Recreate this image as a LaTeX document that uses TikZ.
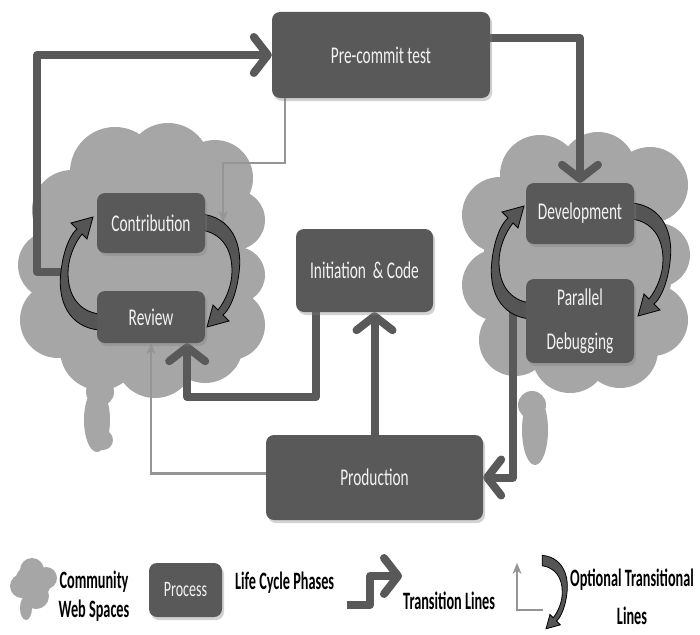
\documentclass[tikz,border=0pt]{standalone}
\usepackage{fontspec}
\usetikzlibrary{arrows.meta,shadows,calc}
\newfontfamily\boxfont[FakeStretch=0.64]{Carlito}
\newfontfamily\legfont[FakeStretch=0.57]{Carlito}
\definecolor{boxgray}{HTML}{595959}
\definecolor{cloudgray}{HTML}{A6A6A6}
\definecolor{thingray}{HTML}{959595}
\definecolor{txtwhite}{HTML}{F2F2F2}
\definecolor{arcfill}{HTML}{555555}
\pgfdeclarelayer{cloudlayer}
\pgfdeclarelayer{linelayer}
\pgfsetlayers{cloudlayer,linelayer,main}
\tikzset{
  phase/.style={draw=none, fill=boxgray, rounded corners=8pt, text=txtwhite,
    font=\boxfont\fontsize{24}{29}\selectfont, inner sep=0pt, align=center,
    drop shadow={opacity=0.35, shadow xshift=2pt, shadow yshift=-3pt}},
  trans/.style={draw=boxgray, line width=8pt, line join=round,
    -{Straight Barb[round,length=14pt,width=36pt]}},
  optline/.style={draw=thingray, line width=2.5pt,
    -{Stealth[length=11pt,width=9pt,line width=0.5pt]}},
  legtext/.style={font=\legfont\bfseries\fontsize{25}{29}\selectfont, text=black,
    inner sep=0pt, align=center},
  crescent/.pic={
    \filldraw[fill=arcfill, draw=black, line width=0.8pt, line join=miter]
      (-51,58) .. controls (-81,55) and (-93,29) .. (-89,-1)
      .. controls (-86,-26) and (-78,-39) .. (-73,-43)
      -- (-79,-49) -- (-57,-55) -- (-63,-33) -- (-68,-38)
      .. controls (-76,-28) and (-82,-13) .. (-82,1)
      .. controls (-82,24) and (-71,39) .. (-51,42) -- cycle;
  },
}
\begin{document}
\begin{tikzpicture}[x=1pt,y=-1pt]
\useasboundingbox (0,0) rectangle (700,634);
% ---------- process boxes ----------
\node[phase, minimum width=218pt, minimum height=86pt] (pre) at (381,55) {Pre-commit test};
\node[phase, minimum width=108pt, minimum height=60pt] (contrib) at (151,223) {Contribution};
\node[phase, minimum width=108pt, minimum height=52pt] (review) at (151,317) {Review};
\node[phase, minimum width=137pt, minimum height=83pt] (init) at (364.5,270.5) {Initiation\ \ \& Code};
\node[phase, minimum width=108pt, minimum height=61pt] (dev) at (580,213.5) {Development};
\node[phase, minimum width=108pt, minimum height=84pt] (pardebug) at (580,321) {Parallel\\[15pt]Debugging};
\node[phase, minimum width=217pt, minimum height=85pt] (prod) at (374.5,477.5) {Production};
% ---------- legend nodes ----------
\node[phase, minimum width=73pt, minimum height=54pt, font=\boxfont\fontsize{22}{26}\selectfont] (lgproc) at (185.5,590) {Process};
\node[legtext] (lgcomm) at (94,596) {Community\\Web Spaces};
\node[legtext, anchor=west] (lglife) at (235,583) {Life Cycle Phases};
\node[legtext, anchor=west] (lgtrans) at (403,601) {Transition Lines};
\node[legtext] (lgopt) at (632,597) {Optional Transitional\\[9pt]Lines};
\coordinate (a1s) at (66,272);
\coordinate (lgts) at (347,605);
\coordinate (lgos) at (543,610);
\coordinate (cR) at (581,261);
\coordinate (cL) at (150,272);
\coordinate (cG) at (509,593);
% ---------- clouds ----------
\begin{pgfonlayer}{cloudlayer}
\fill[white] (0,0) rectangle (700,634);
\fill[cloudgray]
  (142,265) circle[radius=100]
  (115,172) circle[radius=45]
  (168,165) circle[radius=42]
  (215,178) circle[radius=38]
  (72,210) circle[radius=40]
  (235,220) circle[radius=30]
  (52,265) circle[radius=34]
  (237,275) circle[radius=28]
  (58,320) circle[radius=38]
  (230,325) circle[radius=35]
  (100,350) circle[radius=40]
  (155,358) circle[radius=40]
  (205,345) circle[radius=38]
  (100,392) circle[radius=14]
  (97,420) ellipse[x radius=13, y radius=32]
  (103,440) circle[radius=10];
\fill[cloudgray]
  (578,265) circle[radius=95]
  (540,175) circle[radius=40]
  (598,170) circle[radius=38]
  (650,185) circle[radius=38]
  (500,215) circle[radius=38]
  (498,285) circle[radius=36]
  (658,255) circle[radius=32]
  (652,320) circle[radius=36]
  (515,340) circle[radius=36]
  (570,355) circle[radius=38]
  (620,350) circle[radius=38]
  (532,405) circle[radius=14]
  (535,430) ellipse[x radius=13, y radius=35];
\fill[cloudgray]
  (33,582) circle[radius=18]
  (22,586) circle[radius=12]
  (46,578) circle[radius=11]
  (32,570) circle[radius=12]
  (36,596) circle[radius=13]
  (26,608) ellipse[x radius=6, y radius=12];
\end{pgfonlayer}
% ---------- connectors ----------
\begin{pgfonlayer}{linelayer}
\draw[optline] ($(pre.south west)+(13,0)$) -- ++(0,65) -| ($(contrib.east)+(18,-1)$);
\draw[optline] ($(prod.west)+(0,-4)$) -| (review.south);
\draw[trans] (a1s) -- ++(-29,0) |- (pre.west);
\draw[trans] ($(pre.east)+(0,-17)$) -| (dev.north);
\draw[trans] ($(init.south west)+(20,0)$) -- ++(0,85) -| ($(review.south east)+(-18,0)$);
\draw[trans] (prod.north) -- (prod.north |- init.south);
\draw[trans] ($(pardebug.west)+(-13,-16)$) |- (prod.east);
% curved optional arrows
\pic at (cL) {crescent};
\pic[rotate=180] at (cL) {crescent};
\pic at (cR) {crescent};
\pic[rotate=180] at (cR) {crescent};
\pic[rotate=180, scale=0.65] at (cG) {crescent};
% legend lines
\draw[trans] (lgts) -- ++(23,0) -- ++(0,-29) -- ++(32,0);
\draw[optline] (lgos) -- ++(-26,0) -- ++(0,-47);
\end{pgfonlayer}
\end{tikzpicture}
\end{document}
